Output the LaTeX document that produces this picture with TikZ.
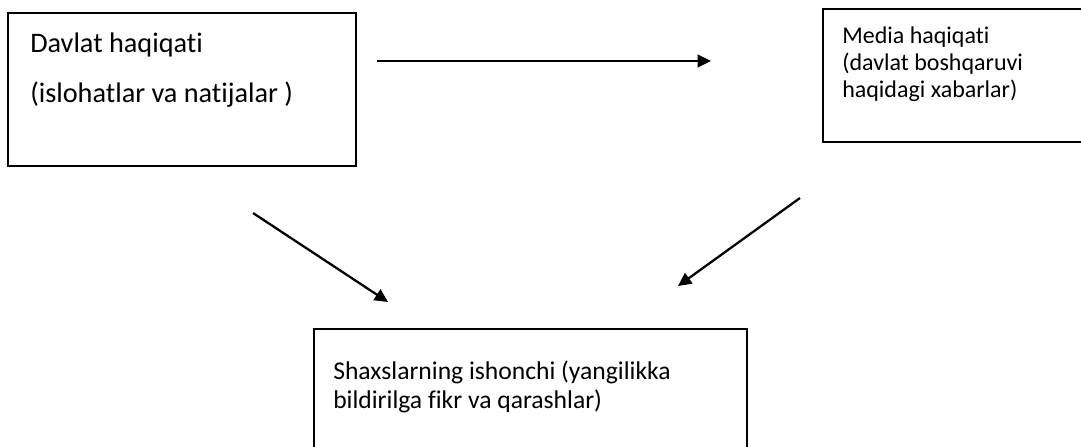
\documentclass[tikz,border=0pt]{standalone}
\usepackage{fontspec}
\setmainfont{Carlito}[Ligatures=NoCommon]
\usetikzlibrary{arrows.meta}
\tikzset{
  boxshape/.style={draw=black,line width=0.8pt},
  bigtext/.style={anchor=base west,inner sep=0pt,font=\fontsize{21.2}{25}\selectfont},
  smalltext/.style={anchor=base west,inner sep=0pt,font=\fontsize{18}{21}\selectfont},
  midtext/.style={anchor=base west,inner sep=0pt,font=\fontsize{19.2}{23}\selectfont},
  arr/.style={line width=1.7pt,-{Triangle[length=10pt,width=9.5pt]}}
}
\begin{document}
\begin{tikzpicture}[x=0.75pt,y=-0.75pt]
\useasboundingbox (0,0) rectangle (1081,446);
% boxes
\draw[boxshape] (8,13) rectangle (356,166);
\draw[boxshape] (823,9) rectangle (1090,142);
\draw[boxshape] (314,329) rectangle (747,460);
% texts
\node[bigtext] (t1a) at (30,52) {Davlat haqiqati};
\node[bigtext] (t1b) at (30,102) {(islohatlar va natijalar )};
\node[smalltext] (t2a) at (842,43) {Media haqiqati};
\node[smalltext] (t2b) at (842,70) {(davlat boshqaruvi};
\node[smalltext] (t2c) at (842,97) {haqidagi xabarlar)};
\node[midtext] (t3a) at (333,379) {Shaxslarning ishonchi (yangilikka};
\node[midtext] (t3b) at (333,408) {bildirilga fikr va qarashlar)};
% arrow end points
\coordinate (a1s) at (377,61);
\coordinate (a1e) at (711,61);
\coordinate (a2s) at (253,213);
\coordinate (a2e) at (388,302);
\coordinate (a3s) at (800,198);
\coordinate (a3e) at (678,286);
\draw[arr] (a1s) -- (a1e);
\draw[arr] (a2s) -- (a2e);
\draw[arr] (a3s) -- (a3e);
\end{tikzpicture}
\end{document}
